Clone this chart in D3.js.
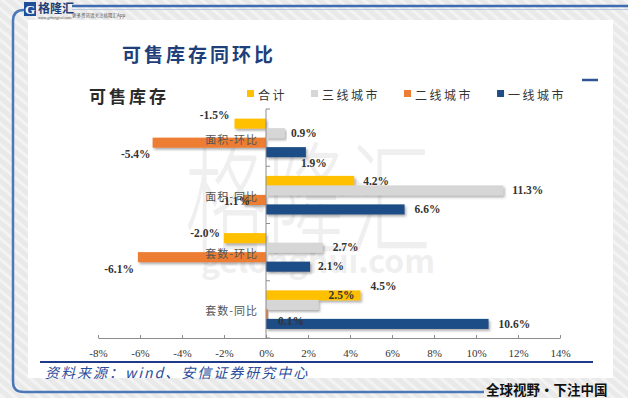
<!DOCTYPE html>
<html lang="zh">
<head>
<meta charset="UTF-8">
<title>可售库存同环比</title>
<script src="https://d3js.org/d3.v7.min.js"></script>
<style>
    body { margin: 0; padding: 0; background: #ececec; }
    svg { display: block; }
    .cjk { font-family: "Noto Sans CJK SC", sans-serif; }
    .num { font-family: "Liberation Serif", "DejaVu Serif", serif; }
</style>
</head>
<body>
<div id="chart"></div>
<script>
    // categories and series
    const categories = ["面积-环比", "面积-同比", "套数-环比", "套数-同比"];
    const seriesNames = ["合计", "三线城市", "二线城市", "一线城市"];
    const totalVals = [-1.5, 4.2, -2.0, 4.5];
    const tier3Vals = [0.9, 11.3, 2.7, 2.5];
    const tier2Vals = [-5.4, -1.1, -6.1, 0.1];
    const tier1Vals = [1.9, 6.6, 2.1, 10.6];
    const xTicks = [-8, -6, -4, -2, 0, 2, 4, 6, 8, 10, 12, 14];

    const colors = ["#ffc000", "#d6d6d6", "#ed7d31", "#1f4e86"];
    // data label nudges [dx, dy] per series / category, as in the original slide
    const labelNudge = [
        [[-5, -8], [9, 0], [-4, -5], [10, -9]],
        [[6, 0], [9, 0], [10, 0], [10, -10]],
        [[-2, 12], [7, 1], [-4, 12], [10, 7]],
        [[-5, 11], [10, 0], [8, 0], [10, 0]]
    ];

    const W = 628, H = 398;
    const series = seriesNames.map((name, i) => ({
        name, color: colors[i],
        values: [totalVals, tier3Vals, tier2Vals, tier1Vals][i]
    }));

    const svg = d3.select("#chart").append("svg")
        .attr("width", W).attr("height", H);

    const defs = svg.append("defs");
    const pat = defs.append("pattern")
        .attr("id", "stripes").attr("width", 8).attr("height", 8)
        .attr("patternUnits", "userSpaceOnUse")
        .attr("patternTransform", "rotate(-50)");
    pat.append("rect").attr("width", 8).attr("height", 8).attr("fill", "#e9e9e9");
    pat.append("rect").attr("width", 3).attr("height", 8).attr("fill", "#f3f3f3");

    const shadow = defs.append("filter").attr("id", "shadow")
        .attr("x", "-5%").attr("y", "-30%").attr("width", "115%").attr("height", "180%");
    shadow.append("feDropShadow")
        .attr("dx", 1.5).attr("dy", 2).attr("stdDeviation", 1)
        .attr("flood-color", "#555").attr("flood-opacity", 0.45);

    // page background and frame
    svg.append("rect").attr("width", W).attr("height", H).attr("fill", "url(#stripes)");
    svg.append("rect").attr("x", 28).attr("y", 20).attr("width", 585).attr("height", 358)
        .attr("fill", "#ffffff");

    svg.append("path")
        .attr("d", "M24,10 Q13,10 13,21 L13,382 Q13,392 24,392 L484,392")
        .attr("fill", "none").attr("stroke", "#4a78b8").attr("stroke-width", 2.5);
    svg.append("line").attr("x1", 72).attr("x2", W).attr("y1", 6).attr("y2", 6)
        .attr("stroke", "#3d6db0").attr("stroke-width", 2.5);
    svg.append("line").attr("x1", 72).attr("x2", W).attr("y1", 9.5).attr("y2", 9.5)
        .attr("stroke", "#b9c9e0").attr("stroke-width", 1);

    // logo
    svg.append("rect").attr("x", 24).attr("y", 2).attr("width", 12).attr("height", 14)
        .attr("fill", "#1f4e9a");
    svg.append("text").attr("x", 30).attr("y", 14).attr("text-anchor", "middle")
        .attr("class", "num").style("font-size", "13px").style("font-weight", "bold")
        .attr("fill", "#fff").text("G");
    svg.append("text").attr("x", 38).attr("y", 13).attr("class", "cjk")
        .style("font-size", "12px").style("font-weight", "bold").attr("fill", "#1f3f7a")
        .text("格隆汇");
    svg.append("text").attr("x", 38).attr("y", 18.5).attr("class", "cjk")
        .style("font-size", "3.5px").attr("fill", "#555").text("www.gelonghui.com");
    svg.append("text").attr("x", 72).attr("y", 17).attr("class", "cjk")
        .style("font-size", "4.5px").attr("fill", "#555").text("更多资讯请关注格隆汇App");

    // watermark
    svg.append("text").attr("class", "cjk")
        .attr("transform", "translate(308,245) scale(1,1.5)")
        .attr("text-anchor", "middle")
        .style("font-size", "82px").style("font-weight", "300")
        .attr("fill", "#efefef").text("格隆汇");
    svg.append("text").attr("x", 318).attr("y", 273).attr("text-anchor", "middle")
        .attr("class", "cjk").style("font-size", "32px").style("font-weight", "bold")
        .attr("fill", "#efefef").text("gelonghui.com");

    // titles
    svg.append("text").attr("x", 122).attr("y", 53).attr("dominant-baseline", "central")
        .attr("class", "cjk").style("font-size", "19px").style("font-weight", "bold")
        .style("letter-spacing", "3px").attr("fill", "#1f3f7a").text("可售库存同环比");
    svg.append("text").attr("x", 89).attr("y", 95).attr("dominant-baseline", "central")
        .attr("class", "cjk").style("font-size", "17px").style("font-weight", "bold")
        .style("letter-spacing", "3px").attr("fill", "#2a2a2a").text("可售库存");
    svg.append("line").attr("x1", 582).attr("x2", 598).attr("y1", 80).attr("y2", 80)
        .attr("stroke", "#2f5597").attr("stroke-width", 2.5);

    // legend
    const legend = svg.append("g").attr("transform", "translate(247,94)");
    let lx = 0;
    series.forEach(s => {
        const g = legend.append("g").attr("transform", `translate(${lx},0)`);
        g.append("rect").attr("x", 0).attr("y", -4).attr("width", 7).attr("height", 7)
            .attr("fill", s.color);
        const t = g.append("text").attr("x", 11).attr("y", 0).attr("dominant-baseline", "central")
            .attr("class", "cjk").style("font-size", "12px").style("letter-spacing", "2.5px")
            .attr("fill", "#333").text(s.name);
        lx += 11 + t.node().getComputedTextLength() + 24;
    });

    // scales
    const x = d3.scaleLinear().domain([-8, 14]).range([98, 560]);
    const y = d3.scaleBand().domain(categories).range([109, 338]);
    const bw = y.bandwidth();
    const inner = d3.scaleBand().domain(seriesNames).range([bw / 2 - 19, bw / 2 + 19]);

    // x axis
    const xAxis = svg.append("g")
        .attr("transform", `translate(0,${y.range()[1]})`)
        .call(d3.axisBottom(x).tickValues(xTicks).tickSize(-3).tickSizeOuter(0)
            .tickPadding(11).tickFormat(d => d + "%"));
    xAxis.select(".domain").attr("stroke", "#8c8c8c");
    xAxis.selectAll(".tick line").attr("stroke", "#8c8c8c");
    xAxis.selectAll("text").attr("class", "num").style("font-size", "11px")
        .attr("fill", "#333");

    // bars
    series.forEach(s => {
        svg.append("g").selectAll("rect")
            .data(s.values.map((v, i) => ({ v, c: categories[i] })))
            .join("rect")
            .attr("x", d => x(Math.min(0, d.v)))
            .attr("width", d => Math.abs(x(d.v) - x(0)))
            .attr("y", d => y(d.c) + inner(s.name))
            .attr("height", inner.bandwidth() + 0.6)
            .attr("fill", s.color)
            .attr("filter", "url(#shadow)");
    });

    // y axis line with band ticks
    const yAxis = svg.append("g").attr("stroke", "#8c8c8c");
    yAxis.append("line").attr("x1", x(0)).attr("x2", x(0))
        .attr("y1", y.range()[0]).attr("y2", y.range()[1]);
    yAxis.selectAll(".bt").data(categories.map(c => y(c)).concat([y.range()[1]]))
        .join("line").attr("class", "bt")
        .attr("x1", x(0)).attr("x2", x(0) + 4).attr("y1", d => d).attr("y2", d => d);

    // category labels
    svg.append("g").selectAll("text").data(categories).join("text")
        .attr("x", x(0) - 8).attr("y", d => y(d) + bw / 2 + 1)
        .attr("text-anchor", "end").attr("dominant-baseline", "central")
        .attr("class", "cjk").style("font-size", "11px").style("letter-spacing", "1px")
        .attr("fill", "#555").text(d => d);

    // data labels
    series.forEach((s, si) => {
        svg.append("g").selectAll("text")
            .data(s.values.map((v, i) => ({ v, c: categories[i], n: labelNudge[si][i] })))
            .join("text")
            .attr("x", d => x(d.v) + d.n[0])
            .attr("y", d => y(d.c) + inner(s.name) + inner.bandwidth() / 2 + d.n[1])
            .attr("text-anchor", d => d.v < 0 ? "end" : "start")
            .attr("dominant-baseline", "central")
            .attr("class", "num").style("font-size", "11.5px").style("font-weight", "bold")
            .attr("fill", "#333")
            .text(d => d.v.toFixed(1) + "%");
    });

    // footer
    svg.append("line").attr("x1", 40).attr("x2", 593).attr("y1", 362).attr("y2", 362)
        .attr("stroke", "#1f3a8a").attr("stroke-width", 2);
    svg.append("text").attr("x", 45).attr("y", 372).attr("dominant-baseline", "central")
        .attr("class", "cjk").style("font-size", "14px").style("font-style", "italic")
        .style("letter-spacing", "2px").attr("fill", "#2a4d9b")
        .text("资料来源：wind、安信证券研究中心");
    svg.append("text").attr("x", 486).attr("y", 389).attr("dominant-baseline", "central")
        .attr("class", "cjk").style("font-size", "13.5px").style("font-weight", "bold")
        .attr("fill", "#111").text("全球视野·下注中国");
</script>
</body>
</html>
